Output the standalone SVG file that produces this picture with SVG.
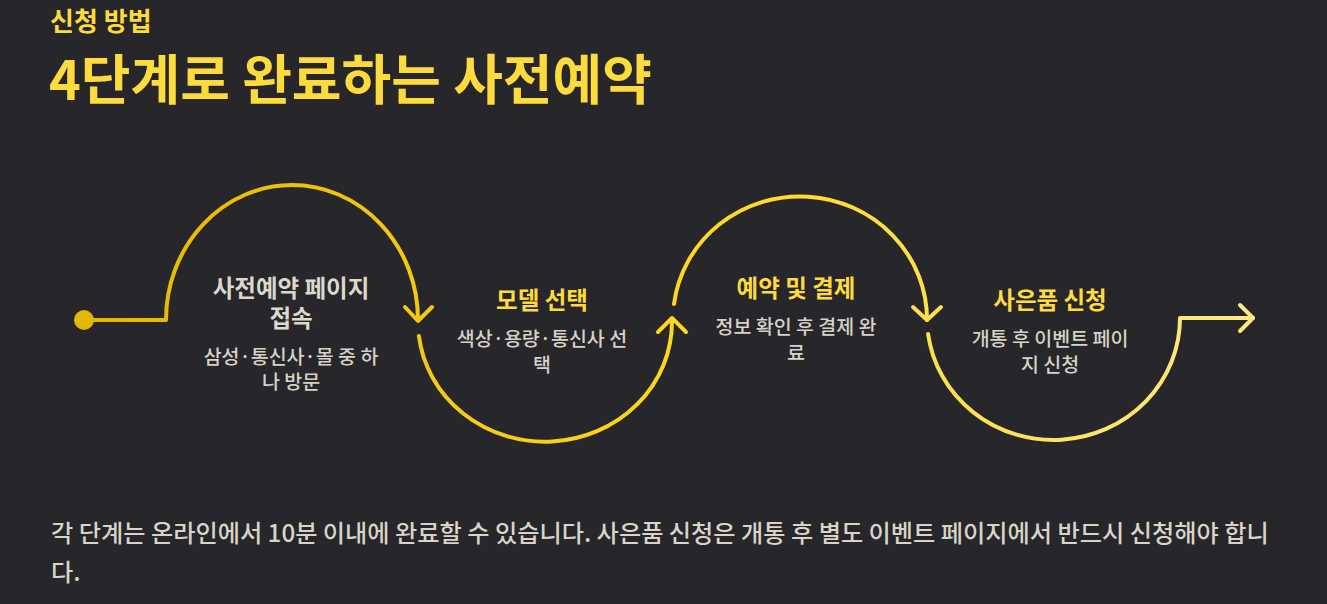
<svg xmlns="http://www.w3.org/2000/svg" width="1327" height="604" viewBox="0 0 1327 604">
<defs>
<linearGradient id="flow" gradientUnits="userSpaceOnUse" x1="84" y1="0" x2="1253" y2="0">
<stop offset="0" stop-color="#e2b700"/>
<stop offset="0.5" stop-color="#fdd620"/>
<stop offset="1" stop-color="#ffe982"/>
</linearGradient>
<style>
.kr{font-family:"Noto Sans CJK KR","Noto Sans",sans-serif}
.sub{font-size:26px;font-weight:700;fill:#fddb3c}
.title{font-size:54px;font-weight:700;fill:#fddb3c}
.nt{font-size:23.5px;font-weight:700;text-anchor:middle}
.nty{fill:#fddb3c}
.ntg{fill:#dcd8cc}
.nd{font-size:19.5px;font-weight:500;fill:#d6d2c6;text-anchor:middle}
.body{font-size:24.2px;font-weight:500;fill:#d8d4c8}
.ln{fill:none;stroke:url(#flow);stroke-width:4;stroke-linecap:round;stroke-linejoin:round}
</style>
</defs>
<rect width="1327" height="604" fill="#26262b"/>
<text class="kr sub" x="50" y="31">신청 방법</text>
<text class="kr title" x="49" y="100">4단계로 완료하는 사전예약</text>
<g id="connectors">
<circle cx="84" cy="320" r="10" fill="#e2b700"/>
<path class="ln" d="M84,320 L166,320 A126,135 0 0 1 418,320"/>
<path class="ln" d="M405,307 L418,321 L432,307"/>
<path class="ln" d="M418.9,336 A127,120 0 0 0 672,322"/>
<path class="ln" d="M658,332 L672,318 L686,332"/>
<path class="ln" d="M674,304 A127,123 0 0 1 927,320"/>
<path class="ln" d="M913,307 L927,320 L941,307"/>
<path class="ln" d="M928.1,334 A126.5,122 0 0 0 1180,318 L1253,318"/>
<path class="ln" d="M1240,305 L1253,318 L1240,331"/>
</g>
<g id="step1">
<text class="kr nt ntg" x="291" y="297">사전예약 페이지</text>
<text class="kr nt ntg" x="291" y="327">접속</text>
<text class="kr nd" x="291" y="364">삼성·통신사·몰 중 하</text>
<text class="kr nd" x="291" y="389">나 방문</text>
</g>
<g id="step2">
<text class="kr nt nty" x="542" y="309">모델 선택</text>
<text class="kr nd" x="542" y="346">색상·용량·통신사 선</text>
<text class="kr nd" x="542" y="372">택</text>
</g>
<g id="step3">
<text class="kr nt nty" x="796" y="297">예약 및 결제</text>
<text class="kr nd" x="796" y="334">정보 확인 후 결제 완</text>
<text class="kr nd" x="796" y="360">료</text>
</g>
<g id="step4">
<text class="kr nt nty" x="1050" y="309">사은품 신청</text>
<text class="kr nd" x="1050" y="346">개통 후 이벤트 페이</text>
<text class="kr nd" x="1050" y="372">지 신청</text>
</g>
<text class="kr body" x="51" y="542">각 단계는 온라인에서 10분 이내에 완료할 수 있습니다. 사은품 신청은 개통 후 별도 이벤트 페이지에서 반드시 신청해야 합니</text>
<text class="kr body" x="51" y="581">다.</text>
</svg>
